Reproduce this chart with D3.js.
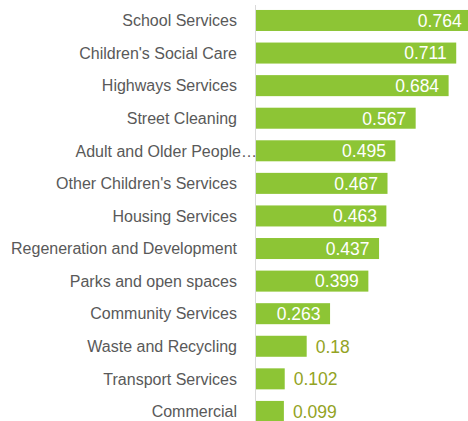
<!DOCTYPE html>
<html><head><meta charset="utf-8">
<script src="https://cdn.jsdelivr.net/npm/d3@7"></script>
<style>
html,body{margin:0;padding:0;background:#fff;overflow:hidden}
svg{display:block}
text{font-family:"Liberation Sans",Arial,sans-serif}
</style></head>
<body>
<svg id="chart" width="468" height="421"></svg>
<script>
const categories = ["School Services","Children's Social Care","Highways Services","Street Cleaning","Adult and Older People's Services","Other Children's Services","Housing Services","Regeneration and Development","Parks and open spaces","Community Services","Waste and Recycling","Transport Services","Commercial"];
const values = [0.764,0.711,0.684,0.567,0.495,0.467,0.463,0.437,0.399,0.263,0.18,0.102,0.099];
const valueLabels = ["0.764","0.711","0.684","0.567","0.495","0.467","0.463","0.437","0.399","0.263","0.18","0.102","0.099"];

const W = 468, H = 421;
const svg = d3.select("#chart");
const x0 = 256;
const x = d3.scaleLinear().domain([0, 0.764]).range([x0, x0 + 0.764 * 281.6]);
const y = d3.scaleBand().domain(categories).range([-1.6, 433.5]).paddingInner(0.355).paddingOuter(0.355);

const barColor = "#8dc535";
const outColor = "#93a324";

// axis line
svg.append("line").attr("x1", 255.5).attr("x2", 255.5).attr("y1", 5).attr("y2", H)
  .attr("stroke", "#d9d9d9").attr("stroke-width", 1);

svg.selectAll("rect.bar").data(categories).join("rect").attr("class","bar")
  .attr("x", x0).attr("y", d => y(d)).attr("height", y.bandwidth())
  .attr("width", (d,i) => x(values[i]) - x0).attr("fill", barColor);

// category labels
svg.selectAll("text.cat").data(categories).join("text").attr("class","cat")
  .attr("font-size", 16).attr("fill", "#595959")
  .attr("y", d => y(d) + y.bandwidth()/2).attr("dy", "0.36em")
  .each(function(d){
    const t = d3.select(this);
    t.text(d).attr("text-anchor","end").attr("x", 237);
    if (this.getComputedTextLength() > 230) {
      let s = d;
      while (s.length > 1) {
        s = s.slice(0, -1);
        t.text(s.trimEnd() + "\u2026");
        if (this.getComputedTextLength() <= 188) break;
      }
      s = s.replace(/[\s'\u2019]+$/, "");
      t.text(s + "\u2026").attr("x", 257);
    }
  });

// value labels
svg.selectAll("text.val").data(categories).join("text").attr("class","val")
  .attr("font-size", 17.5)
  .attr("y", d => y(d) + y.bandwidth()/2).attr("dy", "0.36em")
  .text((d,i) => valueLabels[i])
  .each(function(d,i){
    const t = d3.select(this);
    const bw = x(values[i]) - x0;
    const tw = this.getComputedTextLength();
    if (tw + 20 <= bw) {
      t.attr("text-anchor","end").attr("x", x(values[i]) - 9.5).attr("fill", "#ffffff");
    } else {
      t.attr("text-anchor","start").attr("x", x(values[i]) + 9).attr("fill", outColor);
    }
  });
</script>
</body></html>
